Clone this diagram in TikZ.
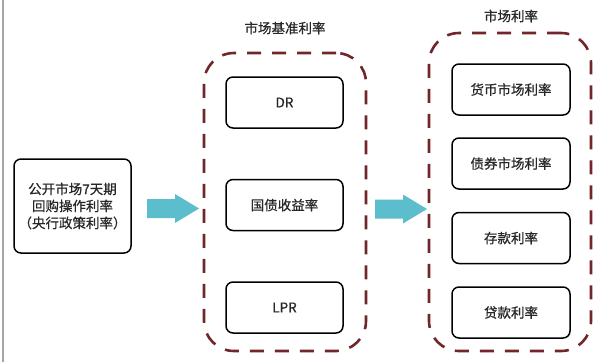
\documentclass[tikz,border=0pt]{standalone}
\usepackage{fontspec}
\newfontfamily\cjk[FakeBold=0.6]{Noto Sans CJK SC}
\definecolor{grpred}{RGB}{112,38,42}
\definecolor{arrowcyan}{RGB}{92,190,204}
\definecolor{txt}{RGB}{40,40,40}
\begin{document}
\begin{tikzpicture}[x=1pt,y=-1pt,
  box/.style={draw=black, line width=1.5pt, rounded corners=7pt, fill=white,
    minimum width=117pt, minimum height=51pt, inner sep=0pt,
    font=\cjk\fontsize{13.5}{17}\selectfont, text=txt, align=center},
  grp/.style={draw=grpred, line width=2.6pt, dash pattern=on 14pt off 11pt,
    rounded corners=30pt, minimum width=162pt, inner sep=0pt},
  ttl/.style={font=\cjk\fontsize{13.5}{17}\selectfont, text=txt, inner sep=0pt},
  fatarrow/.style={fill=arrowcyan, draw=none}
]
\useasboundingbox (0,0) rectangle (601,362);
\fill[white] (0,0) rectangle (601,362);
\coordinate (edgetop) at (3,0);
\coordinate (edgebot) at (3,362);
\draw[line width=1.5pt, black!35] (edgetop) -- (edgebot);

% groups
\node[grp, minimum height=298pt] (lgroup) at (285,202) {};
\node[grp, minimum height=318pt] (rgroup) at (510,192) {};
\node[ttl] (ltitle) at (285,28) {市场基准利率};
\node[ttl] (rtitle) at (511,16) {市场利率};

% left box
\node[box, minimum height=94pt] (policy) at (72.5,206)
  {公开市场7天期\\回购操作利率\\（央行政策利率）};

% benchmark boxes
\node[box] (dr) at (284.5,102.5) {DR};
\node[box] (gz) at (284.5,205) {国债收益率};
\node[box] (lpr) at (284.5,307.5) {LPR};

% market boxes
\node[box, minimum width=118pt] (hb) at (511,89.5) {货币市场利率};
\node[box, minimum width=118pt] (zq) at (511,163.5) {债券市场利率};
\node[box, minimum width=118pt] (ck) at (511,238) {存款利率};
\node[box, minimum width=118pt] (dk) at (511,312.5) {贷款利率};

% arrows (tail coordinates)
\coordinate (arrowa) at (147,208.5);
\coordinate (arrowb) at (375,209);
\foreach \a in {arrowa,arrowb}{
  \fill[fatarrow] (\a) ++(0,-9.5) -- ++(28,0) -- ++(0,-5) -- ++(24,14.5)
    -- ++(-24,14.5) -- ++(0,-5) -- ++(-28,0) -- cycle;
}
\end{tikzpicture}
\end{document}
